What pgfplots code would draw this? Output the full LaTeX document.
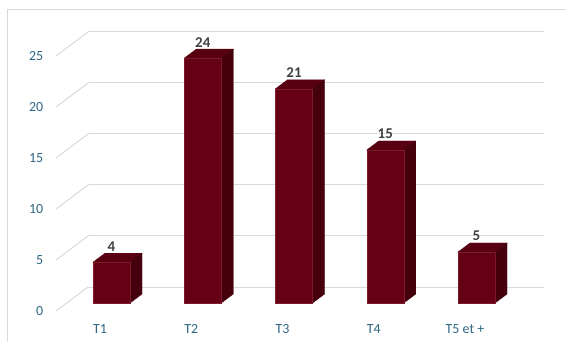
\documentclass[border=0pt]{standalone}
\usepackage{pgfplots}
\pgfplotsset{compat=1.18}
\usepackage{fontspec}
\setmainfont{Carlito}
\definecolor{barfront}{HTML}{660015}
\definecolor{barside}{HTML}{44000D}
\definecolor{bartop}{HTML}{580011}
\definecolor{baredge}{HTML}{7A1A2A}
\definecolor{gridc}{HTML}{D9D9D9}
\definecolor{tickc}{HTML}{2E6583}
\definecolor{lblc}{HTML}{404040}
\begin{document}
\begin{tikzpicture}
\path[use as bounding box] (0bp,0bp) rectangle (566bp,342bp);
\draw[gridc, line width=1bp] (7bp,-10bp) rectangle (600bp,332bp);
\begin{axis}[
  at={(111.5bp,55bp)}, anchor=origin,
  x=91.25bp, y=10.2bp,
  xmin=-0.2575, xmax=4.74, ymin=0, ymax=25,
  clip=false,
  axis line style={draw=none},
  major tick length=0pt,
  tick style={draw=none},
  ymajorgrids,
  major grid style={gridc, line width=1bp},
  ytick={0,5,10,15,20,25},
  xtick={0,1,2,3,4},
  xticklabels={T1,T2,T3,T4,T5 et +},
  /pgf/number format/assume math mode=true,
  ticklabel style={font=\fontsize{14}{16}\selectfont, text=tickc},
  yticklabel style={anchor=east, inner sep=0pt, xshift=-44.5bp, yshift=-24bp},
  xticklabel style={anchor=center, inner sep=0pt, xshift=-11.5bp, yshift=-42bp},
]
\pgfplotsinvokeforeach{0,5,10,15,20,25}{
  \draw[gridc, line width=1bp] (axis cs:-0.2575,#1) -- ++(-32bp,-24bp);
}
\addplot[
  scatter, only marks, mark=*, mark size=0.01pt,
  visualization depends on={rawy \as \rv},
  scatter/@pre marker code/.code={%
    \pgfmathsetmacro\ya{-16-\rv*10.2}%
    \pgfmathsetmacro\yc{-7-\rv*10.2}%
    \fill[bartop] (-18.5bp,-16bp) -- (-6.5bp,-7bp) -- (30.5bp,-7bp) -- (18.5bp,-16bp) -- cycle;
    \fill[barside] (18.5bp,-16bp) -- (30.5bp,-7bp) -- (30.5bp,\yc bp) -- (18.5bp,\ya bp) -- cycle;
    \filldraw[fill=barfront, draw=baredge, line width=0.5bp] (-18.5bp,\ya bp) rectangle (18.5bp,-16bp);
    \pgfscope\pgfsetfillopacity{0}\pgfsetstrokeopacity{0}%
  },
  scatter/@post marker code/.code={\endpgfscope},
] coordinates {(0,4) (1,24) (2,21) (3,15) (4,5)};
\addplot[
  only marks, mark=none,
  nodes near coords,
  every node near coord/.style={anchor=center, inner sep=0pt, text=lblc, font=\fontsize{15}{17}\selectfont\bfseries},
] coordinates {(0,4) (1,24) (2,21) (3,15) (4,5)};
\end{axis}
\end{tikzpicture}
\end{document}
